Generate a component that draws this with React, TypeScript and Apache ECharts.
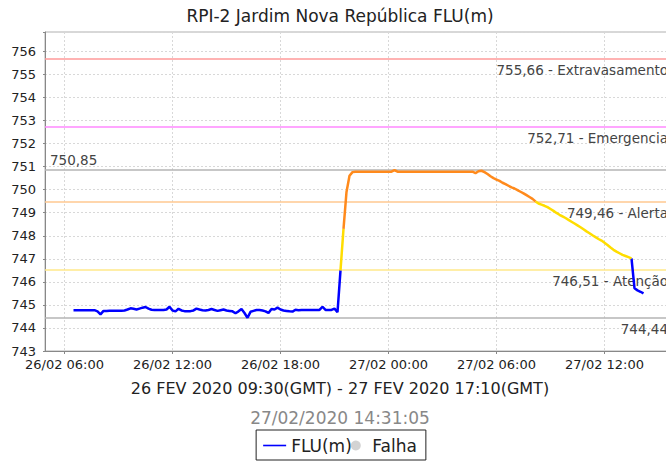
import React, { useEffect, useRef } from "react";
import * as echarts from "echarts";

const TITLE = "RPI-2 Jardim Nova República FLU(m)";
const PERIOD = "26 FEV 2020 09:30(GMT) - 27 FEV 2020 17:10(GMT)";
const UPDATED = "27/02/2020 14:31:05";
const SERIES_NAME = "FLU(m)";
const FAIL_NAME = "Falha";

// local time of first reading, readings every 10 minutes
const FIRST_READING = new Date(2020, 1, 26, 6, 30).getTime();
const STEP_MINUTES = 10;
const AXIS_START = new Date(2020, 1, 26, 4, 55).getTime();
const AXIS_END = new Date(2020, 1, 27, 15, 45).getTime();
const X_TICKS = [
  new Date(2020, 1, 26, 6, 0).getTime(),
  new Date(2020, 1, 26, 12, 0).getTime(),
  new Date(2020, 1, 26, 18, 0).getTime(),
  new Date(2020, 1, 27, 0, 0).getTime(),
  new Date(2020, 1, 27, 6, 0).getTime(),
  new Date(2020, 1, 27, 12, 0).getTime(),
];

const LEVELS = [
  // 26/02 06:30 - 06:50
  744.77, 744.77, 744.77,
  // 07
  744.77, 744.77, 744.77, 744.77, 744.77, 744.72,
  // 08
  744.59, 744.74, 744.74, 744.75, 744.75, 744.75,
  // 09
  744.75, 744.75, 744.76, 744.8, 744.85, 744.83,
  // 10
  744.8, 744.84, 744.88, 744.91, 744.84, 744.79,
  // 11
  744.78, 744.78, 744.78, 744.78, 744.8, 744.92,
  // 12
  744.76, 744.72, 744.83, 744.76, 744.73, 744.73,
  // 13
  744.73, 744.76, 744.84, 744.8, 744.77, 744.76,
  // 14
  744.78, 744.82, 744.78, 744.74, 744.77, 744.8,
  // 15
  744.76, 744.74, 744.72, 744.64, 744.72, 744.82,
  // 16
  744.65, 744.44, 744.7, 744.74, 744.78, 744.78,
  // 17
  744.76, 744.72, 744.65, 744.82, 744.8, 744.88,
  // 18
  744.8, 744.76, 744.74, 744.72, 744.71, 744.79,
  // 19
  744.77, 744.78, 744.78, 744.78, 744.78, 744.78,
  // 20
  744.78, 744.78, 744.92, 744.78, 744.78, 744.78,
  // 21
  744.84, 744.68, 746.5, 748.3, 749.9, 750.6,
  // 22
  750.76, 750.78, 750.78, 750.78, 750.78, 750.78,
  // 23
  750.78, 750.78, 750.78, 750.78, 750.78, 750.78,
  // 27/02 00
  750.78, 750.78, 750.85, 750.78, 750.78, 750.78,
  // 01
  750.78, 750.78, 750.78, 750.78, 750.78, 750.78,
  // 02
  750.78, 750.78, 750.78, 750.78, 750.78, 750.78,
  // 03
  750.78, 750.78, 750.78, 750.78, 750.78, 750.78,
  // 04
  750.78, 750.78, 750.78, 750.78, 750.78, 750.72,
  // 05
  750.8, 750.82, 750.76, 750.68, 750.58, 750.5,
  // 06
  750.44, 750.38, 750.3, 750.24, 750.17, 750.1,
  // 07
  750.05, 749.98, 749.91, 749.84, 749.76, 749.68,
  // 08
  749.6, 749.49, 749.4, 749.35, 749.3, 749.24,
  // 09
  749.16, 749.08, 748.99, 748.91, 748.84, 748.77,
  // 10
  748.69, 748.61, 748.53, 748.45, 748.37, 748.28,
  // 11
  748.19, 748.11, 748.02, 747.94, 747.86, 747.79,
  // 12
  747.7, 747.6, 747.49, 747.39, 747.31, 747.24,
  // 13
  747.17, 747.12, 747.07, 747.02, 745.72, 745.63,
  // 14:00 - 14:10
  745.57, 745.5,
];

const THRESHOLD_VALUES = [755.66, 752.71, 749.46, 746.51];
const THRESHOLD_NAMES = ["Extravasamento", "Emergencia", "Alerta", "Atenção"];
const THRESHOLD_COLORS = ["#ff9a9a", "#ff88ff", "#ffc890", "#ffe98a"];
const MAX_VALUE = 750.85;
const MIN_VALUE = 744.44;

const Y_MIN = 743;
const Y_MAX = 756.84;
const Y_STEP = 1;

const BAND_COLORS = ["#0000ff", "#ffdd00", "#ff8a1c"];
const BAND_NAMES = [SERIES_NAME, "FLU(m) atenção", "FLU(m) alerta"];
const FAIL_COLOR = "#c8c8c8";

const FONT = "DejaVu Sans";

const times = LEVELS.map((_, i) => FIRST_READING + i * STEP_MINUTES * 60000);

function bandOf(v: number): number {
  if (v < THRESHOLD_VALUES[3]) return 0;
  if (v < THRESHOLD_VALUES[2]) return 1;
  return 2;
}

// each segment takes the colour of its end point
function segmentsFor(band: number) {
  const out: (number | null)[][] = [];
  let open = false;
  for (let i = 1; i < LEVELS.length; i++) {
    if (bandOf(LEVELS[i]) === band) {
      if (!open) {
        if (out.length) out.push([times[i - 1], null]);
        out.push([times[i - 1], LEVELS[i - 1]]);
        open = true;
      }
      out.push([times[i], LEVELS[i]]);
    } else {
      open = false;
    }
  }
  return out;
}

const fmtNum = (v: number) => v.toFixed(2).replace(".", ",");
const pad = (n: number) => (n < 10 ? "0" + n : "" + n);

export default function App() {
  const ref = useRef<HTMLDivElement>(null);
  useEffect(() => {
    if (!ref.current) return;
    const chart = echarts.init(ref.current, undefined, { renderer: "svg" });

    const markData: any[] = THRESHOLD_VALUES.map((v, i) => ({
      yAxis: v,
      lineStyle: { color: THRESHOLD_COLORS[i], width: 1.5, type: "solid" },
      label: {
        show: true,
        position: "insideEndBottom",
        formatter: fmtNum(v) + " - " + THRESHOLD_NAMES[i],
      },
    }));
    markData.push({
      yAxis: MAX_VALUE,
      lineStyle: { color: "#b4b4b4", width: 1.5, type: "solid" },
      label: { show: true, position: "insideStartTop", formatter: fmtNum(MAX_VALUE), distance: [5, 3] },
    });
    markData.push({
      yAxis: MIN_VALUE,
      lineStyle: { color: "#b4b4b4", width: 1.5, type: "solid" },
      label: { show: true, position: "insideEndBottom", formatter: fmtNum(MIN_VALUE) },
    });

    const lineSeries: any[] = BAND_COLORS.map((c, b) => ({
      name: BAND_NAMES[b],
      type: "line",
      data: segmentsFor(b),
      symbol: "none",
      showSymbol: false,
      connectNulls: false,
      lineStyle: { color: c, width: 2.5 },
      itemStyle: { color: c },
      z: 3,
    }));
    lineSeries[0].markLine = {
      silent: true,
      symbol: ["none", "none"],
      z: 2,
      label: {
        fontFamily: FONT,
        fontSize: 13.5,
        color: "#444",
        distance: [4, 4],
      },
      data: markData,
    };

    const tickLabel = (v: number) => {
      const d = new Date(v);
      return pad(d.getDate()) + "/" + pad(d.getMonth() + 1) + " " + pad(d.getHours()) + ":" + pad(d.getMinutes());
    };

    chart.setOption({
      animation: false,
      backgroundColor: "#fff",
      textStyle: { fontFamily: FONT },
      title: [
        {
          text: TITLE,
          left: "center",
          top: 2,
          textStyle: { fontFamily: FONT, fontSize: 17, fontWeight: "normal", color: "#222" },
        },
        {
          text: PERIOD,
          left: "center",
          top: 375,
          textStyle: { fontFamily: FONT, fontSize: 16, fontWeight: "normal", color: "#222" },
        },
        {
          text: UPDATED,
          left: "center",
          top: 404,
          textStyle: { fontFamily: FONT, fontSize: 17, fontWeight: "normal", color: "#888" },
        },
      ],
      legend: {
        left: "center",
        top: 430,
        padding: [7, 9, 6, 7],
        itemGap: -1,
        itemWidth: 23,
        itemHeight: 10,
        borderColor: "#222",
        borderWidth: 1,
        symbolKeepAspect: true,
        textStyle: { fontFamily: FONT, fontSize: 17, color: "#222" },
        data: [
          { name: SERIES_NAME, icon: "path://M0,0H23V1.6H0Z" },
          { name: FAIL_NAME, icon: "circle" },
        ],
      },
      grid: {
        left: 45,
        right: 8,
        top: 32,
        bottom: 110,
        show: true,
        borderColor: "#b0b0b0",
        borderWidth: 1,
      },
      xAxis: {
        type: "value",
        min: AXIS_START,
        max: AXIS_END,
        axisLine: { show: true, lineStyle: { color: "#888" } },
        axisTick: { show: true, length: 3, lineStyle: { color: "#888" }, customValues: X_TICKS },
        splitLine: { show: true, lineStyle: { color: "#d8d8d8", type: [2, 2] } },
        axisLabel: {
          fontFamily: FONT,
          fontSize: 13,
          color: "#222",
          margin: 7,
          hideOverlap: false,
          customValues: X_TICKS,
          formatter: tickLabel,
        },
      },
      yAxis: {
        type: "value",
        min: Y_MIN,
        max: Y_MAX,
        interval: Y_STEP,
        axisLine: { show: true, lineStyle: { color: "#888" } },
        axisTick: { show: true, length: 2, lineStyle: { color: "#888" } },
        splitLine: { show: true, lineStyle: { color: "#d8d8d8", type: [2, 2] } },
        axisLabel: {
          fontFamily: FONT,
          fontSize: 13,
          color: "#222",
          margin: 9,
          formatter: (v: number) => (Math.abs(v - Math.round(v)) < 1e-6 ? String(Math.round(v)) : ""),
        },
      },
      series: [
        ...lineSeries,
        {
          name: FAIL_NAME,
          type: "scatter",
          data: [],
          symbol: "circle",
          itemStyle: { color: FAIL_COLOR },
        },
      ],
    });
    return () => chart.dispose();
  }, []);

  return (
    <div style={{ position: "fixed", left: 0, top: 0, width: 666, height: 461, overflow: "hidden", background: "#fff" }}>
      <div ref={ref} style={{ width: 680, height: 461 }} />
    </div>
  );
}
